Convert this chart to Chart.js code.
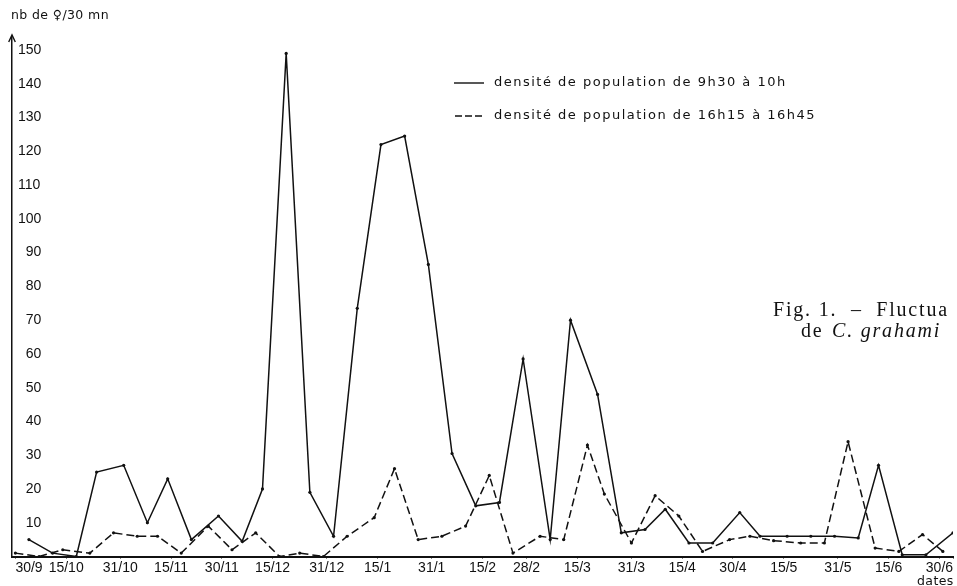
<!DOCTYPE html>
<html lang="fr">
<head>
<meta charset="UTF-8">
<title>Fig. 1 - densité de population</title>
<script src="https://cdn.jsdelivr.net/npm/chart.js"></script>
<style>
  html, body { margin: 0; padding: 0; background: #fff; }
  .cadre { position: relative; width: 957px; height: 586px; }
</style>
</head>
<body>
<div class="cadre">
  <canvas id="graphique"></canvas>
</div>
<script>
// jours comptés depuis le 30/9 (le dernier, sans étiquette, marque le bord droit)
var joursDates = [0, 15, 31, 46, 61, 76, 92, 107, 123, 138, 151, 166, 182, 197, 212, 227, 243, 258, 273, 277];
var etiquettesDates = ['30/9', '15/10', '31/10', '15/11', '30/11', '15/12', '31/12', '15/1', '31/1', '15/2',
                       '28/2', '15/3', '31/3', '15/4', '30/4', '15/5', '31/5', '15/6', '30/6', ''];
var graduationsY = [10, 20, 30, 40, 50, 60, 70, 80, 90, 100, 110, 120, 130, 140, 150];

// 9h30 à 10h (trait plein)
var joursMatin = [4, 11, 18, 24, 32, 39, 45, 52, 60, 67, 73, 80, 87, 94, 101, 108, 115, 122, 129, 136,
                  143, 150, 158, 164, 172, 179, 186, 192, 199, 206, 214, 220, 228, 235, 242, 249, 255, 262, 269, 277];
var densiteMatin = [5, 1, 0, 25, 27, 10, 23, 5, 12, 4.5, 20, 149, 19, 6, 73.5, 122, 124.5, 86.5, 30.5, 15,
                    16, 58.5, 5, 70, 48, 7, 8, 14, 4, 4, 13, 6, 6, 6, 6, 5.5, 27, 0.5, 0.5, 7];

// 16h15 à 16h45 (tirets)
var joursSoir = [0, 7, 14, 22, 29, 36, 42, 49, 57, 64, 71, 78, 84, 91, 98, 106, 112, 119, 126, 133,
                 140, 147, 155, 162, 169, 174, 182, 189, 196, 203, 211, 217, 224, 232, 239, 246, 254, 261, 268, 274];
var densiteSoir = [1, 0, 2, 1, 7, 6, 6, 1, 9, 2, 7, 0, 1, 0, 6, 11.5, 26, 5, 6, 9,
                   24, 1, 6, 5, 33, 18.5, 4, 18, 12, 1.5, 5, 6, 4.7, 4, 4, 34, 2.5, 1.5, 6.5, 1.5];

var legendes = ['densité de population de 9h30 à 10h', 'densité de population de 16h15 à 16h45'];

function points(jours, valeurs) {
    return jours.map(function (j, i) { return { x: j, y: valeurs[i] }; });
}

var noir = '#111';

var annotations = {
    id: 'annotations',
    afterDraw: function (chart) {
        var ctx = chart.ctx;
        var zone = chart.chartArea;
        ctx.save();
        ctx.strokeStyle = noir;
        ctx.fillStyle = noir;

        // fleche en haut de l'axe vertical
        ctx.lineWidth = 1.4;
        ctx.beginPath();
        ctx.moveTo(zone.left - 3.3, zone.top + 5.5);
        ctx.lineTo(zone.left, zone.top - 1.5);
        ctx.lineTo(zone.left + 3.3, zone.top + 5.5);
        ctx.stroke();

        ctx.textBaseline = 'middle';
        ctx.textAlign = 'left';
        ctx.font = '12.5px "DejaVu Sans"';
        ctx.letterSpacing = '0.4px';
        ctx.fillText('nb de \u2640/30 mn', 11, 16);
        ctx.fillText('dates', 917, 582);

        // légende
        var yLeg = [83, 116];
        ctx.lineWidth = 1.4;
        ctx.setLineDash([]);
        ctx.beginPath();
        ctx.moveTo(454, yLeg[0]); ctx.lineTo(484, yLeg[0]);
        ctx.stroke();
        ctx.setLineDash([7, 3]);
        ctx.beginPath();
        ctx.moveTo(455, yLeg[1]); ctx.lineTo(484, yLeg[1]);
        ctx.stroke();
        ctx.setLineDash([]);
        ctx.font = '13px "DejaVu Sans"';
        ctx.letterSpacing = '1.5px';
        ctx.fillText(legendes[0], 494, yLeg[0]);
        ctx.fillText(legendes[1], 494, yLeg[1]);

        // légende de la figure (coupée à droite)
        ctx.font = '20px "Liberation Serif"';
        ctx.letterSpacing = '1.8px';
        ctx.fillText('Fig. 1.  \u2013  Fluctua', 773, 311);
        ctx.fillText('de', 801, 332);
        ctx.font = 'italic 20px "Liberation Serif"';
        ctx.fillText('C. grahami', 832, 332);
        ctx.restore();
    }
};

var ctx = document.getElementById('graphique').getContext('2d');
var graphique = new Chart(ctx, {
    type: 'line',
    data: {
        datasets: [{
            label: legendes[0],
            data: points(joursMatin, densiteMatin),
            borderColor: noir,
            borderWidth: 1.5,
            pointRadius: 1.6,
            pointBackgroundColor: noir,
            pointBorderWidth: 0,
            tension: 0,
            fill: false
        }, {
            label: legendes[1],
            data: points(joursSoir, densiteSoir),
            borderColor: noir,
            borderWidth: 1.5,
            borderDash: [8, 4],
            pointRadius: 1.6,
            pointBackgroundColor: noir,
            pointBorderWidth: 0,
            tension: 0,
            fill: false
        }]
    },
    options: {
        responsive: true,
        maintainAspectRatio: false,
        animation: false,
        layout: { padding: { left: 0, top: 36.5, right: 0, bottom: 8.7 } },
        plugins: {
            legend: { display: false },
            tooltip: { enabled: false }
        },
        scales: {
            x: {
                type: 'linear',
                min: -1,
                max: 277,
                afterBuildTicks: function (axe) {
                    axe.ticks = joursDates.map(function (j) { return { value: j }; });
                },
                ticks: {
                    autoSkip: false,
                    maxRotation: 0,
                    align: 'inner',
                    padding: 1,
                    color: noir,
                    font: { family: 'Liberation Sans', size: 14 },
                    callback: function (v) { return etiquettesDates[joursDates.indexOf(v)]; }
                },
                grid: { drawOnChartArea: false, tickLength: 2, color: noir },
                border: { color: noir, width: 2 }
            },
            y: {
                min: 0,
                max: 154,
                afterBuildTicks: function (axe) {
                    axe.ticks = graduationsY.map(function (v) { return { value: v }; });
                },
                ticks: {
                    mirror: true,
                    padding: 6,
                    color: noir,
                    font: { family: 'Liberation Sans', size: 14 },
                    callback: function (v) { return v < 100 ? '\u2007' + v : '' + v; }
                },
                grid: { drawOnChartArea: false, drawTicks: false },
                border: { color: noir, width: 1.5 }
            }
        }
    },
    plugins: [annotations]
});
</script>
</body>
</html>
